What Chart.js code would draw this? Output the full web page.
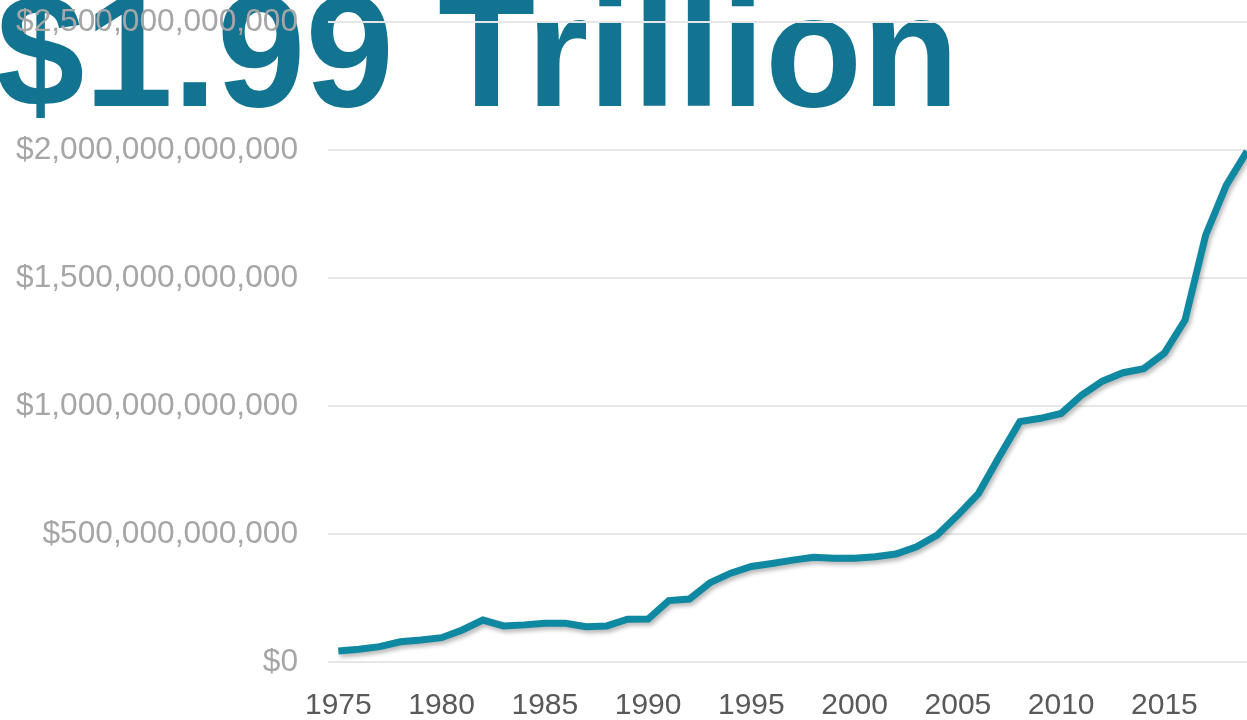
<!DOCTYPE html>
<html>
<head>
<meta charset="utf-8">
<script src="https://cdn.jsdelivr.net/npm/chart.js@4.4.1/dist/chart.umd.min.js"></script>
<style>
  html, body { margin: 0; padding: 0; background: #ffffff; }
  #wrap { width: 1247px; height: 720px; position: relative; }
</style>
</head>
<body>
<div id="wrap"><canvas id="debtChart"></canvas></div>
<script>
// ======================
// Datos (miles de millones de dólares)
// ======================
const years = [
  1975, 1976, 1977, 1978, 1979, 1980, 1981, 1982, 1983, 1984,
  1985, 1986, 1987, 1988, 1989, 1990, 1991, 1992, 1993, 1994,
  1995, 1996, 1997, 1998, 1999, 2000, 2001, 2002, 2003, 2004,
  2005, 2006, 2007, 2008, 2009, 2010, 2011, 2012, 2013, 2014,
  2015, 2016, 2017, 2018, 2019
];
const valuesBillions = [
  43, 50, 60, 79, 86, 95, 125, 164, 141, 145,
  151, 151, 138, 141, 167, 168, 240, 246, 310, 347,
  373, 385, 398, 409, 405, 405, 411, 422, 450, 496,
  574, 659, 802, 939, 952, 971, 1043, 1097, 1130, 1146,
  1207, 1336, 1668, 1863, 1995
];
const yTicks = [0, 500, 1000, 1500, 2000, 2500];
const xTicks = [1975, 1980, 1985, 1990, 1995, 2000, 2005, 2010, 2015];
const headline = "$1.99 Trillion";

// ========== Título grande detrás del gráfico ==========
const headlinePlugin = {
  id: "headline",
  beforeDraw(chart) {
    const ctx = chart.ctx;
    ctx.save();
    ctx.font = "bold 159px 'Liberation Sans', Arial, sans-serif";
    ctx.fillStyle = "#137491";
    ctx.textBaseline = "alphabetic";
    ctx.textAlign = "left";
    ctx.fillText(headline, -4, 106);
    ctx.restore();
  }
};

// ========== Sombra de la línea ==========
const shadowPlugin = {
  id: "lineShadow",
  beforeDatasetDraw(chart) {
    const ctx = chart.ctx;
    ctx.save();
    ctx.shadowColor = "rgba(0,0,0,0.28)";
    ctx.shadowBlur = 4;
    ctx.shadowOffsetX = 2;
    ctx.shadowOffsetY = 3;
  },
  afterDatasetDraw(chart) {
    chart.ctx.restore();
  }
};

new Chart(document.getElementById("debtChart"), {
  type: "line",
  data: {
    datasets: [{
      data: years.map((y, i) => ({ x: y, y: valuesBillions[i] })),
      borderColor: "#0f88a1",
      borderWidth: 7,
      pointRadius: 0,
      tension: 0,
      fill: false
    }]
  },
  options: {
    responsive: true,
    maintainAspectRatio: false,
    animation: false,
    layout: { padding: { top: 22, right: 0, bottom: 0, left: 0 } },
    plugins: {
      legend: { display: false },
      tooltip: { enabled: false }
    },
    scales: {
      x: {
        type: "linear",
        min: 1974.5,
        max: 2019,
        afterBuildTicks(scale) {
          scale.ticks = xTicks.map(v => ({ value: v }));
        },
        afterFit(scale) {
          scale.height = 58;
          scale.paddingLeft = 0;
          scale.paddingRight = 0;
        },
        grid: { display: false, drawTicks: false },
        border: { display: false },
        ticks: {
          padding: 26,
          color: "#595959",
          font: { family: "'Liberation Sans', Arial, sans-serif", size: 30 },
          maxRotation: 0,
          callback: v => String(v)
        }
      },
      y: {
        min: 0,
        max: 2500,
        afterBuildTicks(scale) {
          scale.ticks = yTicks.map(v => ({ value: v }));
        },
        afterFit(scale) {
          scale.width = 328;
          scale.paddingTop = 0;
          scale.paddingBottom = 0;
        },
        grid: { color: "#e6e6e6", lineWidth: 2, drawTicks: false },
        border: { display: false },
        ticks: {
          padding: 30,
          color: "#a6a6a6",
          font: { family: "'Liberation Sans', Arial, sans-serif", size: 31.7 },
          callback: v => "$" + (v * 1e9).toLocaleString("en-US")
        }
      }
    }
  },
  plugins: [headlinePlugin, shadowPlugin]
});
</script>
</body>
</html>
